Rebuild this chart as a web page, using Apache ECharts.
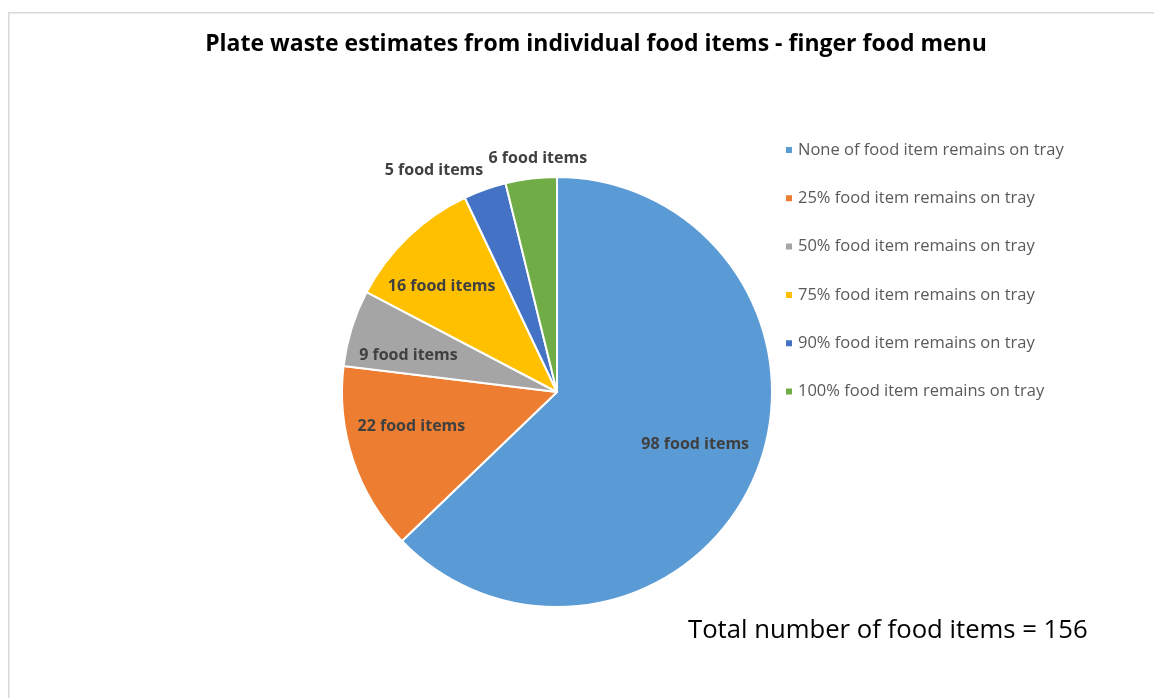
<!DOCTYPE html>
<html>
<head>
<meta charset="utf-8">
<script src="https://cdn.jsdelivr.net/npm/echarts@6/dist/echarts.min.js"></script>
<style>
html,body{margin:0;padding:0;background:#fff;}
#chart{width:1154px;height:698px;}
</style>
</head>
<body>
<div id="chart"></div>
<script>
const categories = [
  'None of food item remains on tray',
  '25% food item remains on tray',
  '50% food item remains on tray',
  '75% food item remains on tray',
  '90% food item remains on tray',
  '100% food item remains on tray'
];
const counts = [98, 22, 9, 16, 5, 6];
const colors = ['#5B9BD5', '#ED7D31', '#A5A5A5', '#FFC000', '#4472C4', '#70AD47'];
const titleText = 'Plate waste estimates from individual food items - finger food menu';
const totalText = 'Total number of food items = 156';
const insideIdx = [0, 1, 2, 3];
const outsideIdx = [4, 5];

const FONT = '"Open Sans", Lato, sans-serif';
const CENTER = [557, 392];
const R = 215;

function labelFmt(p) { return p.value + ' food items'; }

const mainData = categories.map((c, i) => ({ name: c, value: counts[i], itemStyle: { color: colors[i] } }));
const overlayData = (showIdx) => categories.map((c, i) => ({
  name: c, value: counts[i],
  itemStyle: { color: 'rgba(0,0,0,0)', borderWidth: 0 },
  label: { show: showIdx.indexOf(i) >= 0 }
}));

const insideShift = [[-3, -8], [0, -14], [-2, 9], [-9, 5], [0, 0], [0, 0]];
const outsideShift = [[0, 0], [0, 0], [0, 0], [0, 0], [-39, 14], [11, 15]];

const chart = echarts.init(document.getElementById('chart'), null, { renderer: 'canvas' });
chart.setOption({
  animation: false,
  backgroundColor: '#fff',
  title: {
    text: titleText,
    left: 591, top: 28, textAlign: 'center',
    textStyle: { fontFamily: FONT, fontWeight: 'bold', fontSize: 23, color: '#000' }
  },
  legend: {
    orient: 'vertical',
    left: 779, top: 135,
    icon: 'rect', itemWidth: 8, itemHeight: 8, itemGap: 28.3,
    selectedMode: false,
    data: categories,
    textStyle: { fontFamily: FONT, fontSize: 16.5, color: '#595959', lineHeight: 20 }
  },
  graphic: [
    { type: 'rect', shape: { x: 8, y: 12, width: 1146, height: 1.5 }, style: { fill: '#d9d9d9' }, silent: true },
    { type: 'rect', shape: { x: 8, y: 12, width: 1.5, height: 686 }, style: { fill: '#d9d9d9' }, silent: true },
    { type: 'text', left: 688, top: 618, style: { text: totalText, font: '25.7px ' + FONT, fill: '#000' } }
  ],
  series: [
    {
      type: 'pie', center: CENTER, radius: [0, R],
      startAngle: 90, clockwise: true, silent: true,
      itemStyle: { borderColor: '#fff', borderWidth: 2 },
      label: { show: false }, labelLine: { show: false },
      data: mainData
    },
    {
      type: 'pie', center: CENTER, radius: [0, R * 1.4],
      startAngle: 90, clockwise: true, silent: true,
      label: { show: true, position: 'inside', formatter: labelFmt,
               fontFamily: FONT, fontWeight: 'bold', fontSize: 16, color: '#404040' },
      labelLine: { show: false },
      labelLayout: function (p) { return { dx: insideShift[p.dataIndex][0], dy: insideShift[p.dataIndex][1] }; },
      data: overlayData(insideIdx)
    },
    {
      type: 'pie', center: CENTER, radius: [0, R * 2.3],
      startAngle: 90, clockwise: true, silent: true,
      label: { show: true, position: 'inside', formatter: labelFmt,
               fontFamily: FONT, fontWeight: 'bold', fontSize: 16, color: '#404040' },
      labelLine: { show: false },
      labelLayout: function (p) { return { dx: outsideShift[p.dataIndex][0], dy: outsideShift[p.dataIndex][1] }; },
      data: overlayData(outsideIdx)
    }
  ]
});
</script>
</body>
</html>
